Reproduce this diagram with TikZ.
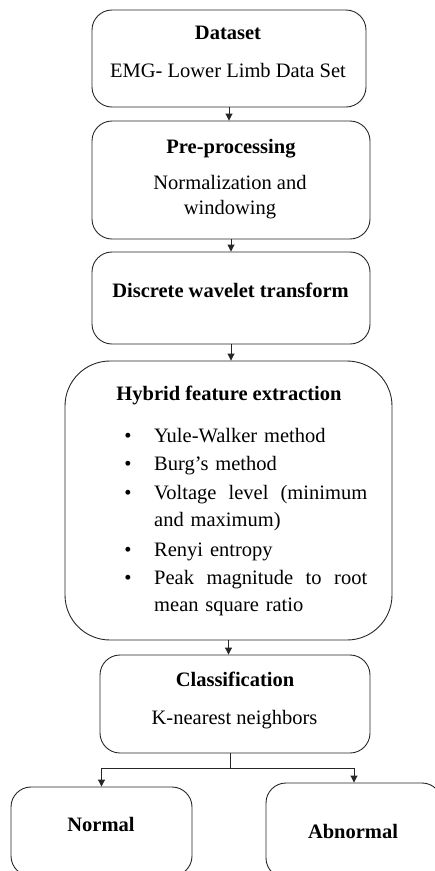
\documentclass[tikz,border=0pt]{standalone}
\usepackage{fontspec}
\setmainfont{Liberation Serif}
\usepackage{tikz}
\usetikzlibrary{arrows.meta, positioning}

\begin{document}
\begin{tikzpicture}[
    x=1pt, y=-1pt,
    box/.style={rectangle, rounded corners=20pt, draw=black!85, line width=0.9pt},
    title/.style={font=\fontsize{20.5}{27}\selectfont\bfseries, inner sep=0pt, anchor=base},
    body/.style={font=\fontsize{20.5}{25}\selectfont, inner sep=0pt, anchor=base, align=center},
    item/.style={font=\fontsize{20.5}{27}\selectfont, inner sep=0pt, anchor=base west, text width=213pt, align=left},
    dot/.style={font=\fontsize{20.5}{27}\selectfont, inner sep=0pt, anchor=base},
    arrow/.style={-{Triangle[length=7pt, width=7pt]}, draw=black!85, line width=0.9pt}
]
\clip (0,0) rectangle (435,871);

% Boxes
\node[box, minimum width=274, minimum height=97] (dataset) at (229,58.5) {};
\node[box, minimum width=278, minimum height=118] (prep) at (231,180) {};
\node[box, minimum width=278, minimum height=92] (dwt) at (231,298) {};
\node[box, rounded corners=45pt, minimum width=327, minimum height=279] (hybrid) at (228.5,500.5) {};
\node[box, minimum width=270, minimum height=98] (classif) at (235,704) {};
\node[box, minimum width=181, minimum height=89] (normal) at (101.5,831.5) {};
\node[box, minimum width=176, minimum height=95] (abnormal) at (354,830.5) {};

% Texts
\node[title] (datasettitle) at (228,39) {Dataset};
\node[body] (datasettext) at (228,77) {EMG- Lower Limb Data Set};
\node[title] (preptitle) at (231,153) {Pre-processing};
\node[body] (preptext) at (230,214) {Normalization and\\windowing};
\node[title] (dwttitle) at (230.5,297) {Discrete wavelet transform};
\node[title] (hybridtitle) at (229,400) {Hybrid feature extraction};
\node[title] (classiftitle) at (235,686) {Classification};
\node[body] (classiftext) at (234.5,724) {K-nearest neighbors};
\node[title] (normaltitle) at (101,831) {Normal};
\node[title] (abnormaltitle) at (353,838) {Abnormal};

% Feature list
\node[dot] (dot1) at (128,442) {\textbullet};
\node[item] (feat1) at (154,442) {Yule-Walker method};
\node[dot] (dot2) at (128,470) {\textbullet};
\node[item] (feat2) at (154,470) {Burg’s method};
\node[dot] (dot3) at (128,499) {\textbullet};
\node[item] (feat3) at (154,499) {Voltage\hfill level\hfill (minimum\\and maximum)};
\node[dot] (dot4) at (128,556) {\textbullet};
\node[item] (feat4) at (154,556) {Renyi entropy};
\node[dot] (dot5) at (128,584) {\textbullet};
\node[item] (feat5) at (154,584) {Peak\hfill magnitude\hfill to\hfill root\\mean square ratio};

% Arrows
\draw[arrow] (dataset.south) -- (dataset.south |- prep.north);
\draw[arrow] (prep.south) -- (dwt.north);
\draw[arrow] (dwt.south) -- (dwt.south |- hybrid.north);
\draw[arrow] (hybrid.south) -- (hybrid.south |- classif.north);
\coordinate (split) at (230,768);
\draw[draw=black!85, line width=0.9pt] (classif.south -| split) -- (split);
\draw[arrow] (split) -| (normal.north);
\draw[arrow] (split) -| (abnormal.north);

\end{tikzpicture}
\end{document}
